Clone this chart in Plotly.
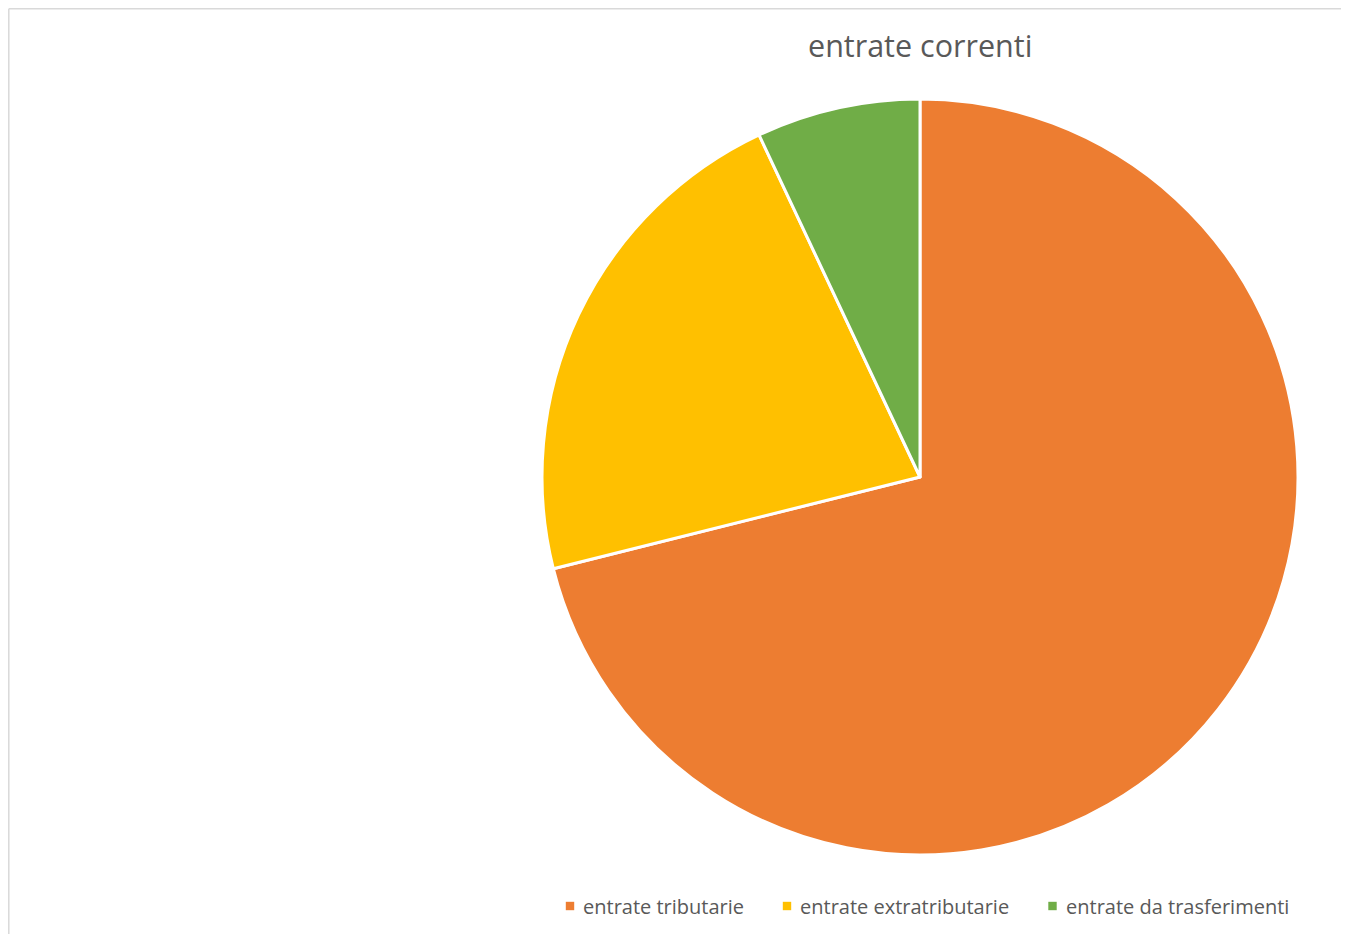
import plotly.graph_objects as go

categories = ["entrate tributarie", "entrate extratributarie", "entrate da trasferimenti"]
values = [71.1, 21.9, 7.0]
colors = ["#ED7D31", "#FFC000", "#70AD47"]
title_text = "entrate correnti"

W, H = 1349, 934
OFF = 8  # page body margin
cx, cy, r = 920 - OFF, 477 - OFF, 378

fig = go.Figure(go.Pie(
    labels=categories,
    values=values,
    sort=False,
    direction="clockwise",
    rotation=0,
    marker=dict(colors=colors, line=dict(color="white", width=3)),
    textinfo="none",
    hoverinfo="label+percent",
    showlegend=False,
    domain=dict(x=[(cx - r) / W, (cx + r) / W], y=[(H - cy - r) / H, (H - cy + r) / H]),
))

# legend row (Excel-style: small square swatch followed by label)
leg_marker_x = [570, 787, 1052.5]
leg_y = 906
annotations = [dict(
    text=title_text, x=cx / W, y=(H - (45 - OFF)) / H, xref="paper", yref="paper",
    showarrow=False, xanchor="center", yanchor="middle",
    font=dict(size=30.5, color="#595959", family="Open Sans"),
)]
shapes = [
    dict(type="line", xref="paper", yref="paper", x0=0.8 / W, x1=1.0, y0=(H - 0.8) / H, y1=(H - 0.8) / H,
         line=dict(color="#D9D9D9", width=1.5)),
    dict(type="line", xref="paper", yref="paper", x0=0.8 / W, x1=0.8 / W, y0=0, y1=(H - 0.8) / H,
         line=dict(color="#D9D9D9", width=1.5)),
]
for name, col, mx in zip(categories, colors, leg_marker_x):
    px = mx - OFF
    py = H - (leg_y - OFF)
    shapes.append(dict(type="rect", xref="paper", yref="paper",
                       x0=(px - 4.2) / W, x1=(px + 4.2) / W, y0=(py - 4.2) / H, y1=(py + 4.2) / H,
                       fillcolor=col, line=dict(width=0)))
    annotations.append(dict(text=name, x=(px + 11) / W, y=py / H, xref="paper", yref="paper",
                            showarrow=False, xanchor="left", yanchor="middle",
                            font=dict(size=20, color="#595959", family="Open Sans")))

fig.update_layout(
    width=W, height=H,
    margin=dict(l=0, r=0, t=0, b=0),
    paper_bgcolor="white",
    font=dict(family="Open Sans", color="#595959"),
    showlegend=False,
    annotations=annotations,
    shapes=shapes,
)

fig.write_html("out.html")
